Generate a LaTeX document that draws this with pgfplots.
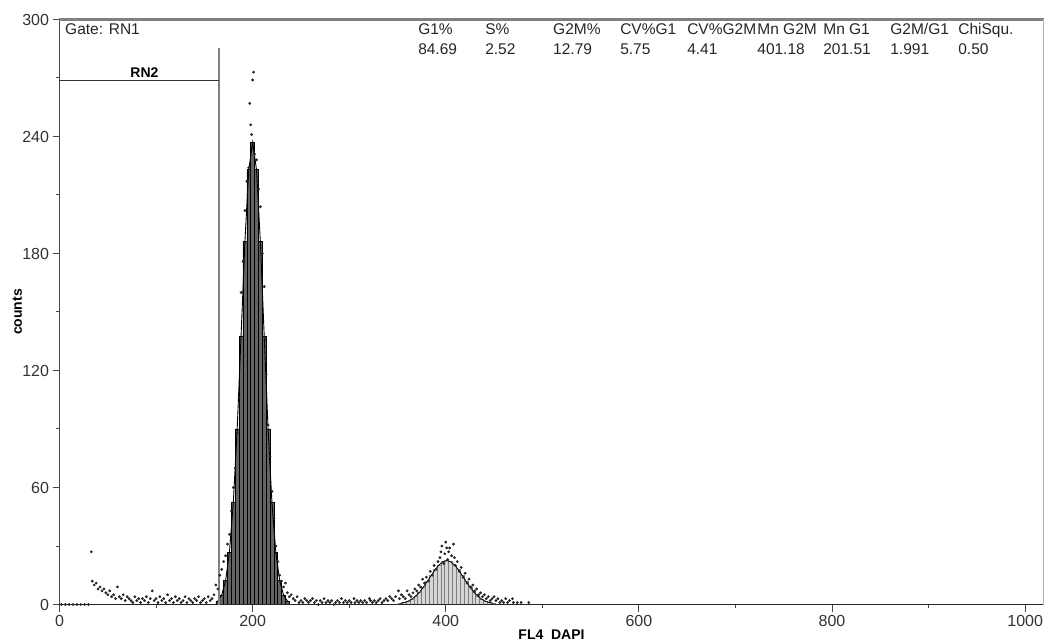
\documentclass[border=0pt]{standalone}
\usepackage{fontspec}
\setmainfont{Liberation Sans}
\usepackage{pgfplots}
\usepackage{pgfplotstable}
\pgfplotsset{compat=1.18}

\definecolor{gone}{RGB}{100,100,100}
\definecolor{gtwo}{RGB}{214,214,214}
\definecolor{gtwoline}{RGB}{125,125,125}
\definecolor{axgray}{RGB}{70,70,70}
\definecolor{dotcol}{RGB}{35,35,35}

\tikzset{hdr/.style={font=\fontsize{15.5bp}{18bp}\selectfont, inner sep=0pt,
                     anchor=base west, text=black!85}}

% fitted G1 peak (bin centre, counts)
\pgfplotstableread{
x y
164 1.8
168 4.9
172 12.2
176 26.9
180 52.2
184 90
188 137.5
192 186
196 223
200 237
204 223
208 186
212 137.5
216 90
220 52.2
224 26.9
228 12.2
232 4.9
236 1.8
}\fitgone

% fitted G2M peak
\pgfplotstableread{
x y
353 0.6
357 1.0
361 1.7
365 2.8
369 4.4
373 6.4
377 9.0
381 11.9
385 14.9
389 17.9
393 20.3
397 21.9
401 22.5
405 21.9
409 20.3
413 17.9
417 14.9
421 11.9
425 9.0
429 6.4
433 4.4
437 2.8
441 1.7
445 1.0
449 0.6
}\fitgtwo

% raw histogram points
\pgfplotstableread{
x y
2 0
6 0
10 0
14 0
18 0
22 0
26 0
30 0
33 27
34 12
36 10
38 11
40 8
42 9
44 7
46 8
48 6
50 5
52 7
54 4
56 5
58 3
60 9
62 4
64 3
66 5
68 2
70 4
72 3
74 2
76 1
78 4
80 2
82 3
84 1
86 3
88 2
90 4
92 1
94 3
96 7
98 2
100 3
102 1
104 4
106 2
108 3
110 1
112 5
114 2
116 3
118 1
120 4
122 2
124 3
126 1
128 2
130 4
132 1
134 3
136 2
138 1
140 3
142 2
144 4
146 1
148 2
150 3
152 1
154 4
156 2
158 3
160 5
162 10
164 8
166 15
168 18
170 22
172 25
174 31
176 36
178 48
180 60
182 70
184 88
186 106
188 160
190 176
192 202
194 217
196 224
197 257
198 246
199 241
200 269
201 273
202 231
204 228
206 213
208 204
210 180
212 163
213 136
214 118
216 92
218 76
220 58
222 44
224 30
226 22
228 15
230 12
232 9
234 11
236 6
238 4
240 5
242 3
244 2
246 4
248 1
250 2
252 1
254 3
256 2
258 1
260 2
262 3
264 1
266 2
268 0
270 2
272 1
274 3
276 1
278 2
280 1
282 2
284 0
286 1
288 2
290 1
292 3
294 1
296 2
298 1
300 2
302 1
305 3
306 1
308 2
310 1
312 2
314 1
316 2
318 1
321 3
322 2
324 1
326 2
328 1
330 2
332 3
334 1
336 2
338 3
340 2
342 4
344 3
346 2
348 4
351 7
352 3
354 5
356 4
358 3
360 7
362 5
364 4
366 6
368 8
370 7
372 10
374 9
376 13
378 11
380 14
382 12
384 17
386 15
388 20
390 18
392 22
394 24
395 27
396 30
398 21
399 26
400 32
401 29
402 23
403 27
404 29
406 25
408 31
409 24
410 20
412 22
414 17
416 19
418 14
420 16
422 11
424 13
426 9
428 10
430 7
432 8
434 5
436 6
438 4
440 5
442 3
444 4
446 2
448 3
450 4
452 2
454 3
456 1
458 2
460 1
462 3
464 1
466 2
469 3
470 1
474 1
478 1
486 1
}\raw

\begin{document}
\begin{tikzpicture}
\useasboundingbox (-59.5bp,-38.5bp) rectangle (987.5bp,604.5bp);
\begin{axis}[
  at={(0,0)}, anchor=south west,
  scale only axis, width=984bp, height=585bp,
  xmin=0, xmax=1019, ymin=0, ymax=300,
  axis line style={draw=none},
  xtick={0,200,...,1000}, ytick={0,60,...,300},
  minor x tick num=1, minor y tick num=1,
  tick pos=left, tick align=outside,
  major tick length=7bp, minor tick length=3.5bp,
  every tick/.style={axgray, line width=1bp},
  tick label style={font=\fontsize{16bp}{19bp}\selectfont, text=black!80},
  /pgf/number format/assume math mode=true,
  /pgf/number format/1000 sep={},
  clip=false,
  xlabel={FL4\ \ DAPI}, ylabel={counts},
  label style={font=\bfseries\fontsize{14bp}{17bp}\selectfont},
  x label style={at={(axis description cs:0.5,-0.0521)}, anchor=center},
  y label style={at={(axis description cs:-0.0427,0.5)}, anchor=center},
]
  \addplot[ybar, bar width=4, bar shift=0pt, fill=gtwo, draw=gtwoline,
           line width=0.6bp] table {\fitgtwo};
  \addplot[black, line width=0.8bp] table {\fitgtwo};
  \addplot[ybar, bar width=4, bar shift=0pt, fill=gone, draw=black,
           line width=0.6bp] table {\fitgone};
  \addplot[black, line width=0.9bp] table {\fitgone};
  \addplot[only marks, mark=*, mark size=1.2bp, dotcol] table {\raw};

  % frame
  \draw[axgray, line width=1.5bp] (rel axis cs:0,0) -- (rel axis cs:0,1);
  \draw[black!85, line width=1.6bp] (rel axis cs:0,0) -- (rel axis cs:1,0);
  \draw[gray, line width=2.2bp] (rel axis cs:0,1) -- (rel axis cs:1,1);
  \draw[black!30, line width=0.8bp] (rel axis cs:1,0) -- (rel axis cs:1,1);

  % gate RN2
  \draw[black!50, line width=1.8bp] (axis cs:165.5,0) -- (axis cs:165.5,285.5);
  \draw[black!80, line width=1.3bp] (axis cs:0,268.8) -- (axis cs:165.5,268.8);
  \node[font=\bfseries\fontsize{14bp}{17bp}\selectfont, anchor=base, inner sep=0pt]
    at (axis cs:88,270) {RN2};

  % header statistics
  \node[hdr] at (axis cs:5.7,292.05) {Gate: RN1};
  \node[hdr] at (axis cs:371.3,292.05) {G1\%};
  \node[hdr] at (axis cs:440.7,292.05) {S\%};
  \node[hdr] at (axis cs:511.1,292.05) {G2M\%};
  \node[hdr] at (axis cs:580.5,292.05) {CV\%G1};
  \node[hdr] at (axis cs:649.9,292.05) {CV\%G2M};
  \node[hdr] at (axis cs:722.5,292.05) {Mn G2M};
  \node[hdr] at (axis cs:790.8,292.05) {Mn G1};
  \node[hdr] at (axis cs:860.2,292.05) {G2M/G1};
  \node[hdr] at (axis cs:930.6,292.05) {ChiSqu.};
  \node[hdr] at (axis cs:371.3,281.8) {84.69};
  \node[hdr] at (axis cs:440.7,281.8) {2.52};
  \node[hdr] at (axis cs:511.1,281.8) {12.79};
  \node[hdr] at (axis cs:580.5,281.8) {5.75};
  \node[hdr] at (axis cs:649.9,281.8) {4.41};
  \node[hdr] at (axis cs:722.5,281.8) {401.18};
  \node[hdr] at (axis cs:790.8,281.8) {201.51};
  \node[hdr] at (axis cs:860.2,281.8) {1.991};
  \node[hdr] at (axis cs:930.6,281.8) {0.50};
\end{axis}
\end{tikzpicture}
\end{document}
